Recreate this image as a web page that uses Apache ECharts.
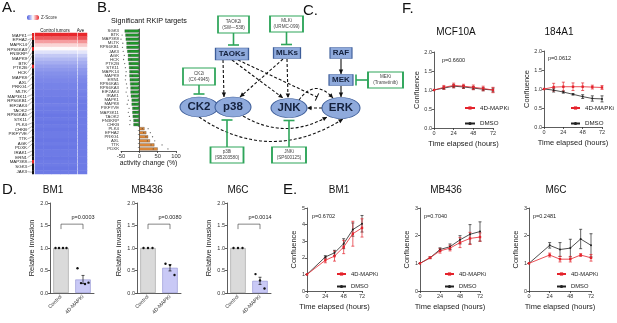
<!DOCTYPE html>
<html>
<head>
<meta charset="utf-8">
<script src="https://cdn.jsdelivr.net/npm/echarts@6.0.0/dist/echarts.min.js"></script>
<style>
  html, body { margin: 0; padding: 0; background: #fff; }
  #chart { width: 617px; height: 323px; }
</style>
</head>
<body>
<div id="chart"></div>
<script>
// ---------------- data ----------------
// A. heatmap
const aGenes = ['MAPK1','EPHA2','MAPK14','RPS6KA3','FN3KRP','MAPK9','BTK','PTK2B','HCK','MAPK8','AXL','PRKG1','MLTK','MAP3K11','RPS6KB1','EIF2AK4','TAOK2','RPS6KA5','STK11','PLK4','CHKB','PIKFYVE','TTK','AGK','PDXK','IRAK1','ERN1','MAP3K8','SGK3','JAK3'];
const aLeaderRow = [0,1,1,2,3,5,6,8,9,11,12,14,15,17,18,19,21,22,23,25,26,27,29,30,31,33,34,36,37,39];
const aRedRows = [0,1,4,9,36];
const aCtrlCols = ['c1','c2','c3','c4','c5'];
const aRowZ = [2.0,1.5,0.9,0.4,0.05,-0.35,-0.65,-0.85,-1.0,-1.15,-1.25,-1.35,-1.4,-1.45,-1.5,-1.5,-1.55,-1.55,-1.6,-1.6,-1.55,-1.6,-1.6,-1.65,-1.6,-1.65,-1.6,-1.65,-1.6,-1.6,-1.65,-1.6,-1.65,-1.6,-1.6,-1.65,-1.6,-1.6,-1.65,-1.6];
const aAveZ = [2.0,1.6,1.0,0.5,0.1,-0.3,-0.6,-0.85,-1.0,-1.1,-1.25,-1.3,-1.4,-1.45,-1.5,-1.5,-1.5,-1.55,-1.55,-1.6,-1.6,-1.6,-1.6,-1.6,-1.6,-1.6,-1.6,-1.6,-1.6,-1.6,-1.6,-1.6,-1.6,-1.6,-1.6,-1.6,-1.6,-1.6,-1.6,-1.6];

// B. RKIP targets
const bGenes = ['SGK3','BTK','MAP3K8','MLTK','RPS6KB1','JAK3','AGK','HCK','PTK2B','STK11','MAPK14','MAPK9','ERN1','RPS6KA5','RPS6KA3','EIF2AK4','IRAK1','MAPK1','MAPK8','PIKFYVE','MAP3K11','TAOK2','FN3KRP','CHKB','PLK4','EPHA2','PRKG1','AXL','TTK','PDXK'];
const bValues = [-40,-38,-37,-35,-35,-33,-31,-31,-29,-28,-27,-27,-26,-25,-24,-24,-23,-21,-21,-19,-19,-18,-16,-16,14,19,24,29,41,50];
const bDotA = [-52,-47,-50,-45,-46,-44,-41,-43,-40,-38,-36,-37,-38,-35,-33,-36,-32,-30,-33,-28,-30,-27,-25,-26,8,12,18,22,32,38];
const bDotB = [-30,-32,-28,-27,-29,-26,-25,-22,-23,-20,-21,-19,-18,-17,-18,-16,-15,-14,-12,-13,-11,-12,-10,-9,24,30,36,42,62,78];

// C. pathway diagram (diagram units)
const cNodes = [
  {name:'TAOKs', x:232, y:54, w:33, h:12, shape:'rect', fs:8},
  {name:'MLKs', x:287, y:53, w:27, h:11, shape:'rect', fs:8},
  {name:'RAF', x:341, y:53, w:22, h:11, shape:'rect', fs:8},
  {name:'MEK', x:341, y:80, w:24, h:11, shape:'rect', fs:8},
  {name:'CK2', x:199, y:107, w:38, h:20, shape:'ellipse', fs:11.5},
  {name:'p38', x:233, y:107, w:36, h:20, shape:'ellipse', fs:11.5},
  {name:'JNK', x:289, y:108, w:36, h:19, shape:'ellipse', fs:11.5},
  {name:'ERK', x:341, y:108, w:38, h:21, shape:'ellipse', fs:11.5}
];
const cInhib = [
  {name:'TAOK2i', sub:'(SW\u2014538)', x:233.5, y:24.5, w:31, h:17, target:'TAOKs'},
  {name:'MLKi', sub:'(URMC-099)', x:286.5, y:24, w:33, h:16, target:'MLKs'},
  {name:'CK2i', sub:'(CX-4945)', x:199, y:76.5, w:32, h:17, target:'CK2'},
  {name:'MEKi', sub:'(Trametinib)', x:385.5, y:80, w:35, h:16, target:'MEK'},
  {name:'p38i', sub:'(SB203580)', x:227, y:155, w:33, h:16, target:'p38'},
  {name:'JNKi', sub:'(SP600125)', x:289, y:155, w:34, h:16, target:'JNK'}
];
// [from, dx, dy, to, dx, dy, dashed, end, bend]
const cEdges = [
  ['TAOKs',-9,6,'p38',-9,-10,1,'arrow',0],
  ['TAOKs',0,6,'JNK',-6,-10,1,'arrow',0],
  ['TAOKs',6,6,'ERK',-24,-11,1,'tbar',0],
  ['MLKs',-4,6,'p38',7,-10,1,'arrow',0],
  ['MLKs',0,6,'JNK',-1,-10,1,'arrow',0],
  ['RAF',0,6,'MEK',0,-6,0,'arrow',0],
  ['MEK',0,6,'ERK',0,-11,0,'arrow',0],
  ['ERK',-19,0,'JNK',18,0,1,'arrow',0],
  ['JNK',10,-8,'ERK',-8,-10,1,'arrow',21],
  ['p38',10,9,'ERK',-14,9,1,'arrow',-24],
  ['CK2',0,10,'ERK',2,11,1,'arrow',-47]
];

// D. invasion
const dCats = ['Control','4D-MAPKi'];
const dBM1 = [1.0, 0.30], dBM1Se = [0, 0.09], dBM1Ctrl = [1,1,1,1], dBM1Trt = [0.55,0.22,0.20,0.23];
const dMB = [1.0, 0.56], dMBSe = [0, 0.07], dMBCtrl = [1,1,1], dMBTrt = [0.65,0.62,0.40];
const dM6 = [1.0, 0.27], dM6Se = [0, 0.08], dM6Ctrl = [1,1,1], dM6Trt = [0.42,0.28,0.10];

// E. confluence, cancer lines
const eBM1T = [0,24,36,48,60,72];
const eBM1Trt = [1.0,1.85,2.1,2.65,3.45,3.8], eBM1TrtErr = [0,0.15,0.3,0.4,0.75,0.55];
const eBM1Dmso = [1.0,2.05,2.3,2.85,3.7,4.05], eBM1DmsoErr = [0,0.08,0.15,0.3,0.4,0.5];
const eMBT = [0,12,24,36,48,60,72];
const eMBTrt = [1.0,1.2,1.45,1.55,1.75,1.9,1.95], eMBTrtErr = [0,0.03,0.08,0.1,0.18,0.22,0.15];
const eMBDmso = [1.0,1.2,1.5,1.6,1.85,2.05,2.15], eMBDmsoErr = [0,0.03,0.06,0.1,0.15,0.35,0.35];
const eM6T = [0,24,36,48,60,72];
const eM6Trt = [1.0,1.3,1.15,1.15,1.3,1.2], eM6TrtErr = [0,0.07,0.1,0.1,0.05,0.12];
const eM6Dmso = [1.0,1.65,1.5,1.55,1.88,1.65], eM6DmsoErr = [0,0.1,0.25,0.32,0.35,0.42];

// F. confluence, normal lines
const fT = [0,12,24,36,48,60,72];
const fMcfTrt = [1.0,1.07,1.12,1.1,1.07,1.04,1.0], fMcfTrtErr = [0,0.05,0.06,0.05,0.06,0.06,0.07];
const fMcfDmso = [1.0,1.05,1.1,1.08,1.05,1.02,1.0], fMcfDmsoErr = [0,0.03,0.04,0.04,0.04,0.04,0.05];
const f184Trt = [1.0,1.05,1.06,1.06,1.06,1.05,1.04], f184TrtErr = [0,0.1,0.12,0.1,0.1,0.05,0.05];
const f184Dmso = [1.0,0.97,0.92,0.86,0.8,0.75,0.74], f184DmsoErr = [0,0.05,0.03,0.02,0.05,0.07,0.08];

// ---------------- helpers ----------------
const FONT = 'Liberation Sans, Arial, sans-serif';
const RED = '#e4222b';
const BLK = '#222';
const GREEN = '#2ea55a';

const chart = echarts.init(document.getElementById('chart'));

function grid(l, t, w, h) {
  return { left: l, top: t, width: w, height: h, outerBoundsMode: 'none' };
}
const axLine = { show: true, lineStyle: { color: '#333', width: 0.8 } };
const axTick = { show: true, length: 2, lineStyle: { color: '#333', width: 0.8 } };
const axLab = { fontSize: 5.5, color: '#333', margin: 2, fontFamily: FONT };

function txt(s, x, y, size, align, color) {
  return {
    type: 'text', x: x, y: y, silent: true,
    style: { text: s, fontSize: size, fontFamily: FONT, fill: color || '#111',
      align: align || 'center', verticalAlign: 'middle' }
  };
}

function errItem(params, api) {
  const x = api.value(0), m = api.value(1), e = api.value(2);
  if (!e) return null;
  const a = api.coord([x, m + e]), b = api.coord([x, m - e]);
  const c = api.visual('color');
  const w = 1.5;
  const st = { stroke: c, lineWidth: 0.7 };
  return { type: 'group', children: [
    { type: 'line', shape: { x1: a[0], y1: a[1], x2: b[0], y2: b[1] }, style: st },
    { type: 'line', shape: { x1: a[0] - w, y1: a[1], x2: a[0] + w, y2: a[1] }, style: st },
    { type: 'line', shape: { x1: b[0] - w, y1: b[1], x2: b[0] + w, y2: b[1] }, style: st }
  ]};
}

// one time-course chart (grid gi)
function timeCourse(gi, times, trt, trtErr, dmso, dmsoErr) {
  const out = [];
  [['DMSO', dmso, dmsoErr, BLK, 'circle', 2], ['4D-MAPKi', trt, trtErr, RED, 'rect', 2.4]].forEach(s => {
    out.push({
      type: 'line', name: s[0], xAxisIndex: gi, yAxisIndex: gi,
      data: times.map((t, i) => [t, s[1][i]]),
      symbol: s[4], symbolSize: s[5], showSymbol: true,
      lineStyle: { color: s[3], width: 0.8 }, itemStyle: { color: s[3] }, z: 3
    });
    out.push({
      type: 'custom', name: 'err', xAxisIndex: gi, yAxisIndex: gi,
      data: times.map((t, i) => [t, s[1][i], s[2][i]]),
      encode: { x: 0, y: 1 }, renderItem: errItem, itemStyle: { color: s[3] }, z: 2
    });
  });
  return out;
}

// one invasion bar chart (grid gi)
function invasion(gi, means, ses, ctrl, trt, pText) {
  const dotOff = { 4: [-5.5, -2, 2, 5.5], 3: [-4.5, 0, 4.5] };
  return [
    {
      type: 'bar', xAxisIndex: gi, yAxisIndex: gi, barWidth: '70%',
      data: means.map((v, i) => ({ value: v, itemStyle: i === 0
        ? { color: '#dadada', borderColor: '#9a9a9a', borderWidth: 0.6 }
        : { color: '#c9c9f6', borderColor: '#8d8dd0', borderWidth: 0.6 } })),
      z: 2
    },
    {
      type: 'custom', xAxisIndex: gi, yAxisIndex: gi,
      data: means.map((v, i) => [i, v, ses[i]]), encode: { x: 0, y: 1 },
      renderItem: errItem, itemStyle: { color: '#111' }, z: 3
    },
    {
      type: 'custom', xAxisIndex: gi, yAxisIndex: gi,
      data: ctrl.map((v, i) => [0, v, dotOff[ctrl.length][i]]).concat(trt.map((v, i) => [1, v, dotOff[trt.length][i]])),
      encode: { x: 0, y: 1 },
      renderItem: (p, api) => {
        const c = api.coord([api.value(0), api.value(1)]);
        return { type: 'circle', shape: { cx: c[0] + api.value(2), cy: c[1], r: 1.2 }, style: { fill: '#111' } };
      }, z: 4
    },
    {
      type: 'custom', xAxisIndex: gi, yAxisIndex: gi,
      data: [[0, 1.53, 1.42]], encode: { x: 0, y: 1 },
      renderItem: (p, api) => {
        const top = api.value(1), low = api.value(2);
        const a = api.coord([0, low]), b = api.coord([0, top]), c = api.coord([1, top]), d = api.coord([1, low]);
        const t = api.coord([0.5, 1.68]);
        return { type: 'group', children: [
          { type: 'polyline', shape: { points: [a, b, c, d] }, style: { stroke: '#333', lineWidth: 0.6, fill: null } },
          { type: 'text', x: t[0], y: t[1], style: { text: pText, fontSize: 5.5, fontFamily: FONT, fill: '#222', align: 'center', verticalAlign: 'middle' } }
        ]};
      }, z: 4
    }
  ];
}

function legendAt(l, t, iw, fs, gap) {
  return {
    left: l, top: t, orient: 'vertical', itemWidth: iw, itemHeight: 4, itemGap: gap,
    padding: 0, selectedMode: false, data: ['4D-MAPKi', 'DMSO'],
    textStyle: { fontSize: fs, color: '#222', fontFamily: FONT }
  };
}

// pathway geometry
const nodeByName = {};
cNodes.forEach(n => { nodeByName[n.name] = n; });

function edgeItem(params, api) {
  const e = cEdges[params.dataIndex];
  const a = nodeByName[e[0]], b = nodeByName[e[3]];
  const p1 = api.coord([a.x + e[1], a.y + e[2]]);
  const p2 = api.coord([b.x + e[4], b.y + e[5]]);
  const dashed = e[6], end = e[7], bend = e[8];
  const st = { stroke: '#111', lineWidth: 1.1, fill: null, lineDash: dashed ? [3, 2] : null };
  const children = [];
  let from = p1;
  if (bend) {
    const dx = p2[0] - p1[0], dy = p2[1] - p1[1], len = Math.hypot(dx, dy);
    const cp = [(p1[0] + p2[0]) / 2 + bend * dy / len, (p1[1] + p2[1]) / 2 - bend * dx / len];
    children.push({ type: 'bezierCurve', shape: { x1: p1[0], y1: p1[1], x2: p2[0], y2: p2[1], cpx1: cp[0], cpy1: cp[1] }, style: st });
    from = cp;
  } else {
    children.push({ type: 'line', shape: { x1: p1[0], y1: p1[1], x2: p2[0], y2: p2[1] }, style: st });
  }
  const ux = p2[0] - from[0], uy = p2[1] - from[1], ul = Math.hypot(ux, uy);
  const dx = ux / ul, dy = uy / ul;
  if (end === 'arrow') {
    const L = 4.5, W = 2.2;
    children.push({ type: 'polygon', shape: { points: [
      [p2[0], p2[1]],
      [p2[0] - dx * L - dy * W, p2[1] - dy * L + dx * W],
      [p2[0] - dx * L + dy * W, p2[1] - dy * L - dx * W]
    ] }, style: { fill: '#111' } });
  } else {
    const W = 4;
    children.push({ type: 'line', shape: { x1: p2[0] - dy * W, y1: p2[1] + dx * W, x2: p2[0] + dy * W, y2: p2[1] - dx * W }, style: { stroke: '#111', lineWidth: 1.1 } });
  }
  return { type: 'group', children: children };
}

function inhibItem(params, api) {
  const h = cInhib[params.dataIndex];
  const t = nodeByName[h.target];
  const c = api.coord([h.x, h.y]);
  const tc = api.coord([t.x, t.y]);
  let s, e, bar;
  if (Math.abs(h.x - t.x) > Math.abs(h.y - t.y)) {
    const sg = h.x > t.x ? 1 : -1;
    s = [c[0] - sg * h.w / 2, c[1]];
    e = [tc[0] + sg * (t.w / 2 + 3), c[1]];
    bar = { x1: e[0], y1: e[1] - 5.5, x2: e[0], y2: e[1] + 5.5 };
  } else {
    const sg = h.y > t.y ? 1 : -1;
    s = [c[0], c[1] - sg * h.h / 2];
    e = [c[0], tc[1] + sg * (t.h / 2 + 3)];
    bar = { x1: e[0] - 5.5, y1: e[1], x2: e[0] + 5.5, y2: e[1] };
  }
  const st = { stroke: GREEN, lineWidth: 1.6 };
  return { type: 'group', children: [
    { type: 'line', shape: { x1: s[0], y1: s[1], x2: e[0], y2: e[1] }, style: st },
    { type: 'line', shape: bar, style: st }
  ]};
}

// ---------------- layout ----------------
const grids = [
  grid(5, 33, 29, 141),    // 0 A labels + leaders
  grid(35, 33, 42, 141),   // 1 A heatmap control
  grid(78, 33, 9, 141),    // 2 A heatmap ave
  grid(121, 29, 55, 122),  // 3 B
  grid(180, 10, 230, 160), // 4 C
  grid(50, 203, 44, 90),   // 5 D BM1
  grid(137, 203, 44, 90),  // 6 D MB436
  grid(227, 203, 44, 90),  // 7 D M6C
  grid(307, 208, 55, 83),  // 8 E BM1
  grid(420, 208, 60, 83),  // 9 E MB436
  grid(529, 208, 62, 83),  // 10 E M6C
  grid(434, 52, 59, 76),   // 11 F MCF10A
  grid(544, 51, 58, 76)    // 12 F 184A1
];

const rowCats = aRowZ.map((_, i) => String(i));
const xAxes = [], yAxes = [];
// A
xAxes.push({ gridIndex: 0, type: 'value', min: 0, max: 29, show: false });
yAxes.push({ gridIndex: 0, type: 'value', min: 0, max: aRowZ.length, inverse: true, show: false });
xAxes.push({ gridIndex: 1, type: 'category', data: aCtrlCols, show: false });
yAxes.push({ gridIndex: 1, type: 'category', data: rowCats, inverse: true, show: false });
xAxes.push({ gridIndex: 2, type: 'category', data: ['Ave'], show: false });
yAxes.push({ gridIndex: 2, type: 'category', data: rowCats, inverse: true, show: false });
// B
xAxes.push({ gridIndex: 3, type: 'value', min: -50, max: 100, interval: 50,
  axisLine: axLine, axisTick: axTick, axisLabel: Object.assign({}, axLab, { fontSize: 5.8 }), splitLine: { show: false },
  name: 'activity change (%)', nameLocation: 'middle', nameGap: 9,
  nameTextStyle: { fontSize: 6.8, color: '#222', fontFamily: FONT } });
yAxes.push({ gridIndex: 3, type: 'category', data: bGenes, inverse: true,
  axisLine: axLine, axisTick: { show: true, length: 1.5, lineStyle: { color: '#333', width: 0.5 } },
  axisLabel: { fontSize: 4.3, color: '#333', margin: 2, interval: 0, fontFamily: FONT } });
// C
xAxes.push({ gridIndex: 4, type: 'value', min: 180, max: 410, show: false });
yAxes.push({ gridIndex: 4, type: 'value', min: 10, max: 170, inverse: true, show: false });
// D
[5, 6, 7].forEach(gi => {
  xAxes.push({ gridIndex: gi, type: 'category', data: dCats,
    axisLine: axLine, axisTick: { show: false },
    axisLabel: { fontSize: 5.2, color: '#333', rotate: 45, interval: 0, margin: 3, fontFamily: FONT } });
  yAxes.push({ gridIndex: gi, type: 'value', min: 0, max: 2, interval: 0.5,
    axisLine: axLine, axisTick: axTick, splitLine: { show: false },
    axisLabel: Object.assign({}, axLab, { formatter: v => v.toFixed(1) }),
    name: 'Relative invasion', nameLocation: 'middle', nameGap: 14,
    nameTextStyle: { fontSize: 7.5, color: '#222', fontFamily: FONT } });
});
// E + F
[[8, 5, 1, false], [9, 3, 1, false], [10, 3, 1, false], [11, 2, 0.5, true], [12, 2, 0.5, true]].forEach(c => {
  xAxes.push({ gridIndex: c[0], type: 'value', min: 0, max: 72, interval: 24,
    axisLine: axLine, axisTick: axTick, axisLabel: axLab, splitLine: { show: false },
    name: 'Time elapsed (hours)', nameLocation: 'middle', nameGap: 12,
    nameTextStyle: { fontSize: 7.5, color: '#222', fontFamily: FONT } });
  yAxes.push({ gridIndex: c[0], type: 'value', min: 0, max: c[1], interval: c[2],
    axisLine: axLine, axisTick: axTick, splitLine: { show: false },
    axisLabel: Object.assign({}, axLab, c[3] ? { formatter: v => v.toFixed(1) } : {}),
    name: 'Confluence', nameLocation: 'middle', nameGap: c[3] ? 11 : 8,
    nameTextStyle: { fontSize: 7.5, color: '#222', fontFamily: FONT } });
});

// ---------------- series ----------------
const series = [];
// A: heatmaps (index 0, 1)
series.push({
  type: 'heatmap', xAxisIndex: 1, yAxisIndex: 1,
  data: aCtrlCols.flatMap((c, ci) => aRowZ.map((z, r) => [ci, r, z])),
  itemStyle: { borderWidth: 0 }, progressive: 0
});
series.push({
  type: 'heatmap', xAxisIndex: 2, yAxisIndex: 2,
  data: aAveZ.map((z, r) => [0, r, z]),
  itemStyle: { borderWidth: 0 }, progressive: 0
});
// A: annotation bar
series.push({
  type: 'custom', xAxisIndex: 0, yAxisIndex: 0,
  data: aRowZ.map((z, r) => [27, r, aRedRows.indexOf(r) >= 0 ? 1 : 0]), encode: { x: 0, y: 1 },
  renderItem: (p, api) => {
    const r = api.value(1);
    const a = api.coord([27, r]), b = api.coord([29, r + 1]);
    return { type: 'rect', shape: { x: a[0], y: a[1], width: b[0] - a[0], height: b[1] - a[1] + 0.3 },
      style: { fill: api.value(2) ? '#e02020' : '#111' } };
  }
});
// A: gene labels with leader lines
series.push({
  type: 'custom', xAxisIndex: 0, yAxisIndex: 0,
  data: aGenes.map((g, i) => [i, aLeaderRow[i]]), encode: { x: 0, y: 1 },
  renderItem: (p, api) => {
    const i = api.value(0), r = api.value(1);
    const ly = api.coord([0, (i + 0.5) * aRowZ.length / aGenes.length])[1];
    const ty = api.coord([0, r + 0.5])[1];
    const xt = api.coord([22, 0])[0], xl = api.coord([27, 0])[0];
    return { type: 'group', children: [
      { type: 'text', x: xt, y: ly, style: { text: aGenes[i], fontSize: 4.4, fontFamily: FONT, fill: '#222', align: 'right', verticalAlign: 'middle' } },
      { type: 'line', shape: { x1: xt + 0.5, y1: ly, x2: xl, y2: ty }, style: { stroke: '#444', lineWidth: 0.4 } }
    ]};
  }
});
// B
series.push({
  type: 'bar', xAxisIndex: 3, yAxisIndex: 3, data: bValues, barWidth: 3,
  itemStyle: { color: p => p.value < 0 ? '#1f9a2a' : '#e28b3a', borderColor: '#333', borderWidth: 0.3 }
});
series.push({
  type: 'scatter', xAxisIndex: 3, yAxisIndex: 3, symbolSize: 1.3,
  data: bGenes.flatMap((g, i) => [[bDotA[i], g], [bDotB[i], g]]),
  itemStyle: { color: '#444' }, z: 3
});
// C: edges, inhibitor links, nodes, inhibitor boxes
series.push({
  type: 'custom', xAxisIndex: 4, yAxisIndex: 4,
  data: cEdges.map(e => [nodeByName[e[0]].x, nodeByName[e[0]].y]), encode: { x: 0, y: 1 },
  renderItem: edgeItem, z: 2
});
series.push({
  type: 'custom', xAxisIndex: 4, yAxisIndex: 4,
  data: cInhib.map(h => [h.x, h.y]), encode: { x: 0, y: 1 },
  renderItem: inhibItem, z: 2
});
series.push({
  type: 'scatter', xAxisIndex: 4, yAxisIndex: 4, z: 3,
  data: cNodes.map(n => ({
    name: n.name, value: [n.x, n.y],
    symbol: n.shape === 'rect' ? 'rect' : 'circle', symbolSize: [n.w, n.h],
    label: { fontSize: n.fs }
  })),
  itemStyle: { color: '#8faadc', borderColor: '#3d5d99', borderWidth: 0.8, opacity: 1 },
  label: { show: true, position: 'inside', formatter: '{b}', fontWeight: 'bold', color: '#14213d', fontFamily: FONT }
});
series.push({
  type: 'scatter', xAxisIndex: 4, yAxisIndex: 4, z: 3,
  data: cInhib.map(h => ({ name: h.name, value: [h.x, h.y], symbolSize: [h.w, h.h] })),
  symbol: 'rect',
  itemStyle: { color: '#fff', borderColor: GREEN, borderWidth: 1.3, opacity: 1 },
  label: { show: true, position: 'inside', fontSize: 4.6, lineHeight: 6, color: '#444', fontFamily: FONT,
    formatter: p => p.name + '\n' + cInhib[p.dataIndex].sub }
});
// D
series.push(...invasion(5, dBM1, dBM1Se, dBM1Ctrl, dBM1Trt, 'p=0.0003'));
series.push(...invasion(6, dMB, dMBSe, dMBCtrl, dMBTrt, 'p=0.0080'));
series.push(...invasion(7, dM6, dM6Se, dM6Ctrl, dM6Trt, 'p=0.0014'));
// E
series.push(...timeCourse(8, eBM1T, eBM1Trt, eBM1TrtErr, eBM1Dmso, eBM1DmsoErr));
series.push(...timeCourse(9, eMBT, eMBTrt, eMBTrtErr, eMBDmso, eMBDmsoErr));
series.push(...timeCourse(10, eM6T, eM6Trt, eM6TrtErr, eM6Dmso, eM6DmsoErr));
// F
series.push(...timeCourse(11, fT, fMcfTrt, fMcfTrtErr, fMcfDmso, fMcfDmsoErr));
series.push(...timeCourse(12, fT, f184Trt, f184TrtErr, f184Dmso, f184DmsoErr));

// ---------------- texts ----------------
const texts = [
  txt('A.', 2, 8, 15, 'left'), txt('B.', 97, 8, 15, 'left'), txt('C.', 303, 11, 15, 'left'),
  txt('F.', 402, 9, 15, 'left'), txt('D.', 2, 190, 15, 'left'), txt('E.', 283, 190, 15, 'left'),
  txt('Control tumors', 55, 30.5, 4.5), txt('Ave', 80.5, 30.5, 4.5),
  txt('Significant RKIP targets', 149, 21, 7.2),
  txt('BM1', 53, 190, 10), txt('MB436', 147, 190, 10), txt('M6C', 238, 190, 10),
  txt('BM1', 339, 190, 10), txt('MB436', 446, 190, 10), txt('M6C', 556, 190, 10),
  txt('MCF10A', 456, 32, 10), txt('184A1', 559, 32, 10),
  txt('p=0.6702', 312, 216, 5.5, 'left', '#222'), txt('p=0.7040', 424, 216, 5.5, 'left', '#222'),
  txt('p=0.2481', 533, 216, 5.5, 'left', '#222'),
  txt('p=0.6600', 442, 60, 5.5, 'left', '#222'), txt('p=0.0612', 548, 58, 5.5, 'left', '#222')
];

chart.setOption({
  animation: false,
  backgroundColor: '#fff',
  textStyle: { fontFamily: FONT },
  grid: grids,
  xAxis: xAxes,
  yAxis: yAxes,
  visualMap: {
    type: 'continuous', min: -2, max: 2, seriesIndex: [0, 1],
    orient: 'horizontal', left: 27, top: 15, itemWidth: 5, itemHeight: 12, padding: 0,
    text: ['Z-Score', ''], textGap: 2, calculable: false,
    textStyle: { fontSize: 4.5, color: '#333', fontFamily: FONT },
    inRange: { color: ['#4a5ae0', '#ffffff', '#e8262b'] }
  },
  legend: [
    legendAt(336, 271, 9, 5.8, 6.5),
    legendAt(444, 271, 9, 5.8, 6.5),
    legendAt(556, 271, 9, 5.8, 6.5),
    legendAt(464, 105, 10, 6.2, 9.5),
    legendAt(570, 105, 9, 6.2, 9.5)
  ],
  graphic: texts,
  series: series
});
</script>
</body>
</html>
